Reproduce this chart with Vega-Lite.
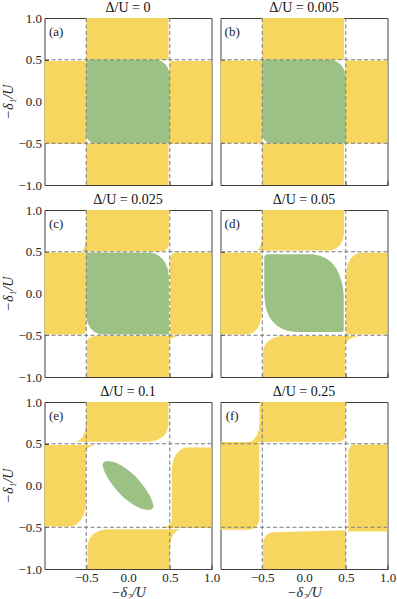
{
  "$schema": "https://vega.github.io/schema/vega-lite/v6.json",
  "padding": {"left": 0.5, "top": 0, "right": 0, "bottom": 0},
  "background": "white",
  "config": {
    "view": {"stroke": "#404040", "strokeWidth": 1},
    "axis": {"domain": false, "grid": false, "tickSize": -4, "tickColor": "#333333", "labelFlush": false, "labelFont": "Liberation Serif, Times New Roman, DejaVu Serif, serif", "labelFontSize": 13, "labelColor": "#222222", "titleFont": "Liberation Serif, Times New Roman, DejaVu Serif, serif", "titleFontSize": 14, "titleFontWeight": "normal", "titleFontStyle": "italic", "titleColor": "#222222", "zindex": 1, "labelPadding": 7, "titlePadding": 2},
    "title": {"font": "Liberation Serif, Times New Roman, DejaVu Serif, serif", "fontSize": 14, "fontWeight": "normal", "offset": -3, "color": "#111111", "anchor": "middle", "frame": "group"}
  },
  "data": {"values": [
    {"p":"*","k":"V","x":-0.5},{"p":"*","k":"V","x":0.5},{"p":"*","k":"H","y":-0.5},{"p":"*","k":"H","y":0.5},
    {"p":"a","k":"L","x":-0.86,"y":0.83,"lab":"(a)"},
    {"p":"b","k":"L","x":-0.86,"y":0.83,"lab":"(b)"},
    {"p":"c","k":"L","x":-0.86,"y":0.83,"lab":"(c)"},
    {"p":"d","k":"L","x":-0.86,"y":0.83,"lab":"(d)"},
    {"p":"e","k":"L","x":-0.86,"y":0.83,"lab":"(e)"},
    {"p":"f","k":"L","x":-0.86,"y":0.83,"lab":"(f)"},

    {"p":"a","k":"Y","r":"t","x":-0.5,"y":1,"y2":0.5},{"p":"a","k":"Y","r":"t","x":0.485,"y":1,"y2":0.5},
    {"p":"a","k":"Y","r":"l","x":-1,"y":0.485,"y2":-0.505},{"p":"a","k":"Y","r":"l","x":-0.5,"y":0.485,"y2":-0.505},
    {"p":"a","k":"Y","r":"r","x":0.5,"y":0.485,"y2":-0.505},{"p":"a","k":"Y","r":"r","x":1,"y":0.485,"y2":-0.505},
    {"p":"a","k":"Y","r":"b","x":-0.5,"y":-0.5,"y2":-1},{"p":"a","k":"Y","r":"b","x":0.485,"y":-0.5,"y2":-1},
    {"p":"a","k":"G","r":"g","x":-0.5,"y":0.5,"y2":-0.39},{"p":"a","k":"G","r":"g","x":-0.49,"y":0.5,"y2":-0.437},
    {"p":"a","k":"G","r":"g","x":-0.468,"y":0.5,"y2":-0.468},{"p":"a","k":"G","r":"g","x":-0.437,"y":0.5,"y2":-0.49},
    {"p":"a","k":"G","r":"g","x":-0.409,"y":0.5,"y2":-0.498},{"p":"a","k":"G","r":"g","x":-0.39,"y":0.5,"y2":-0.5},
    {"p":"a","k":"G","r":"g","x":0.33,"y":0.5,"y2":-0.5},{"p":"a","k":"G","r":"g","x":0.36,"y":0.497,"y2":-0.5},
    {"p":"a","k":"G","r":"g","x":0.402,"y":0.482,"y2":-0.5},{"p":"a","k":"G","r":"g","x":0.45,"y":0.444,"y2":-0.5},
    {"p":"a","k":"G","r":"g","x":0.484,"y":0.39,"y2":-0.5},{"p":"a","k":"G","r":"g","x":0.5,"y":0.31,"y2":-0.5},

    {"p":"b","k":"Y","r":"t","x":-0.5,"y":1,"y2":0.5},{"p":"b","k":"Y","r":"t","x":0.48,"y":1,"y2":0.5},
    {"p":"b","k":"Y","r":"l","x":-1,"y":0.49,"y2":-0.5},{"p":"b","k":"Y","r":"l","x":-0.5,"y":0.49,"y2":-0.5},
    {"p":"b","k":"Y","r":"r","x":0.5,"y":0.49,"y2":-0.5},{"p":"b","k":"Y","r":"r","x":1,"y":0.49,"y2":-0.5},
    {"p":"b","k":"Y","r":"b","x":-0.5,"y":-0.5,"y2":-1},{"p":"b","k":"Y","r":"b","x":0.48,"y":-0.5,"y2":-1},
    {"p":"b","k":"G","r":"g","x":-0.5,"y":0.5,"y2":-0.39},{"p":"b","k":"G","r":"g","x":-0.49,"y":0.5,"y2":-0.437},
    {"p":"b","k":"G","r":"g","x":-0.468,"y":0.5,"y2":-0.468},{"p":"b","k":"G","r":"g","x":-0.437,"y":0.5,"y2":-0.49},
    {"p":"b","k":"G","r":"g","x":-0.409,"y":0.5,"y2":-0.498},{"p":"b","k":"G","r":"g","x":-0.39,"y":0.5,"y2":-0.5},
    {"p":"b","k":"G","r":"g","x":0.31,"y":0.5,"y2":-0.5},{"p":"b","k":"G","r":"g","x":0.343,"y":0.497,"y2":-0.5},
    {"p":"b","k":"G","r":"g","x":0.39,"y":0.48,"y2":-0.5},{"p":"b","k":"G","r":"g","x":0.444,"y":0.438,"y2":-0.5},
    {"p":"b","k":"G","r":"g","x":0.482,"y":0.379,"y2":-0.5},{"p":"b","k":"G","r":"g","x":0.5,"y":0.29,"y2":-0.5},

    {"p":"c","k":"Y","r":"t","x":-0.57,"y":0.505,"y2":0.505},{"p":"c","k":"Y","r":"t","x":-0.558,"y":0.508,"y2":0.505},
    {"p":"c","k":"Y","r":"t","x":-0.54,"y":0.522,"y2":0.505},{"p":"c","k":"Y","r":"t","x":-0.5205,"y":0.559,"y2":0.505},
    {"p":"c","k":"Y","r":"t","x":-0.5066,"y":0.612,"y2":0.505},{"p":"c","k":"Y","r":"t","x":-0.5,"y":0.69,"y2":0.505},
    {"p":"c","k":"Y","r":"t","x":-0.4995,"y":1,"y2":0.505},{"p":"c","k":"Y","r":"t","x":0.4,"y":1,"y2":0.505},
    {"p":"c","k":"Y","r":"t","x":0.416,"y":1,"y2":0.506},{"p":"c","k":"Y","r":"t","x":0.438,"y":1,"y2":0.514},
    {"p":"c","k":"Y","r":"t","x":0.464,"y":1,"y2":0.533},{"p":"c","k":"Y","r":"t","x":0.4815,"y":1,"y2":0.56},
    {"p":"c","k":"Y","r":"t","x":0.49,"y":1,"y2":0.6},
    {"p":"c","k":"Y","r":"l","x":-1,"y":0.49,"y2":-0.49},{"p":"c","k":"Y","r":"l","x":-0.55,"y":0.49,"y2":-0.49},
    {"p":"c","k":"Y","r":"l","x":-0.529,"y":0.49,"y2":-0.483},{"p":"c","k":"Y","r":"l","x":-0.515,"y":0.49,"y2":-0.47},
    {"p":"c","k":"Y","r":"l","x":-0.505,"y":0.49,"y2":-0.45},{"p":"c","k":"Y","r":"l","x":-0.5,"y":0.49,"y2":-0.42},
    {"p":"c","k":"Y","r":"r","x":0.505,"y":0.41,"y2":-0.49},{"p":"c","k":"Y","r":"r","x":0.511,"y":0.444,"y2":-0.49},
    {"p":"c","k":"Y","r":"r","x":0.524,"y":0.467,"y2":-0.49},{"p":"c","k":"Y","r":"r","x":0.5425,"y":0.4825,"y2":-0.49},
    {"p":"c","k":"Y","r":"r","x":0.57,"y":0.49,"y2":-0.49},{"p":"c","k":"Y","r":"r","x":1,"y":0.49,"y2":-0.49},
    {"p":"c","k":"Y","r":"b","x":-0.49,"y":-0.57,"y2":-1},{"p":"c","k":"Y","r":"b","x":-0.477,"y":-0.5425,"y2":-1},
    {"p":"c","k":"Y","r":"b","x":-0.449,"y":-0.524,"y2":-1},{"p":"c","k":"Y","r":"b","x":-0.409,"y":-0.511,"y2":-1},
    {"p":"c","k":"Y","r":"b","x":-0.35,"y":-0.505,"y2":-1},{"p":"c","k":"Y","r":"b","x":0.49,"y":-0.505,"y2":-1},
    {"p":"c","k":"Y","r":"b","x":0.4905,"y":-0.505,"y2":-0.575},{"p":"c","k":"Y","r":"b","x":0.507,"y":-0.505,"y2":-0.545},
    {"p":"c","k":"Y","r":"b","x":0.543,"y":-0.505,"y2":-0.5255},{"p":"c","k":"Y","r":"b","x":0.594,"y":-0.505,"y2":-0.5116},
    {"p":"c","k":"Y","r":"b","x":0.639,"y":-0.505,"y2":-0.506},{"p":"c","k":"Y","r":"b","x":0.67,"y":-0.505,"y2":-0.505},
    {"p":"c","k":"G","r":"g","x":-0.5,"y":0.49,"y2":-0.25},{"p":"c","k":"G","r":"g","x":-0.49,"y":0.49,"y2":-0.327},
    {"p":"c","k":"G","r":"g","x":-0.47,"y":0.49,"y2":-0.379},{"p":"c","k":"G","r":"g","x":-0.44,"y":0.49,"y2":-0.425},
    {"p":"c","k":"G","r":"g","x":-0.4,"y":0.49,"y2":-0.461},{"p":"c","k":"G","r":"g","x":-0.35,"y":0.49,"y2":-0.485},
    {"p":"c","k":"G","r":"g","x":-0.31,"y":0.49,"y2":-0.49},{"p":"c","k":"G","r":"g","x":0.26,"y":0.49,"y2":-0.49},
    {"p":"c","k":"G","r":"g","x":0.32,"y":0.48,"y2":-0.49},{"p":"c","k":"G","r":"g","x":0.37,"y":0.453,"y2":-0.49},
    {"p":"c","k":"G","r":"g","x":0.41,"y":0.417,"y2":-0.49},{"p":"c","k":"G","r":"g","x":0.44,"y":0.377,"y2":-0.49},
    {"p":"c","k":"G","r":"g","x":0.465,"y":0.326,"y2":-0.49},{"p":"c","k":"G","r":"g","x":0.48,"y":0.277,"y2":-0.49},
    {"p":"c","k":"G","r":"g","x":0.49,"y":0.19,"y2":-0.49},

    {"p":"d","k":"Y","r":"t","x":-0.565,"y":0.516,"y2":0.516},{"p":"d","k":"Y","r":"t","x":-0.554,"y":0.52,"y2":0.516},
    {"p":"d","k":"Y","r":"t","x":-0.5375,"y":0.538,"y2":0.516},{"p":"d","k":"Y","r":"t","x":-0.519,"y":0.585,"y2":0.516},
    {"p":"d","k":"Y","r":"t","x":-0.506,"y":0.651,"y2":0.516},{"p":"d","k":"Y","r":"t","x":-0.5,"y":0.75,"y2":0.516},
    {"p":"d","k":"Y","r":"t","x":-0.4995,"y":1,"y2":0.516},{"p":"d","k":"Y","r":"t","x":0.3,"y":1,"y2":0.516},
    {"p":"d","k":"Y","r":"t","x":0.331,"y":1,"y2":0.519},{"p":"d","k":"Y","r":"t","x":0.376,"y":1,"y2":0.535},
    {"p":"d","k":"Y","r":"t","x":0.427,"y":1,"y2":0.576},{"p":"d","k":"Y","r":"t","x":0.463,"y":1,"y2":0.634},
    {"p":"d","k":"Y","r":"t","x":0.48,"y":1,"y2":0.72},
    {"p":"d","k":"Y","r":"l","x":-1,"y":0.488,"y2":-0.49},{"p":"d","k":"Y","r":"l","x":-0.68,"y":0.488,"y2":-0.49},
    {"p":"d","k":"Y","r":"l","x":-0.65,"y":0.488,"y2":-0.486},{"p":"d","k":"Y","r":"l","x":-0.607,"y":0.488,"y2":-0.4675},
    {"p":"d","k":"Y","r":"l","x":-0.558,"y":0.488,"y2":-0.42},{"p":"d","k":"Y","r":"l","x":-0.524,"y":0.488,"y2":-0.3515},
    {"p":"d","k":"Y","r":"l","x":-0.508,"y":0.488,"y2":-0.25},
    {"p":"d","k":"Y","r":"r","x":0.504,"y":0.25,"y2":-0.49},{"p":"d","k":"Y","r":"r","x":0.5215,"y":0.351,"y2":-0.49},
    {"p":"d","k":"Y","r":"r","x":0.5585,"y":0.418,"y2":-0.49},{"p":"d","k":"Y","r":"r","x":0.611,"y":0.4656,"y2":-0.49},
    {"p":"d","k":"Y","r":"r","x":0.6576,"y":0.4844,"y2":-0.49},{"p":"d","k":"Y","r":"r","x":0.69,"y":0.488,"y2":-0.49},
    {"p":"d","k":"Y","r":"r","x":1,"y":0.488,"y2":-0.49},
    {"p":"d","k":"Y","r":"b","x":-0.49,"y":-0.69,"y2":-1},{"p":"d","k":"Y","r":"b","x":-0.467,"y":-0.614,"y2":-1},
    {"p":"d","k":"Y","r":"b","x":-0.42,"y":-0.563,"y2":-1},{"p":"d","k":"Y","r":"b","x":-0.3515,"y":-0.527,"y2":-1},
    {"p":"d","k":"Y","r":"b","x":-0.292,"y":-0.513,"y2":-1},{"p":"d","k":"Y","r":"b","x":-0.25,"y":-0.51,"y2":-1},
    {"p":"d","k":"Y","r":"b","x":0.49,"y":-0.51,"y2":-1},{"p":"d","k":"Y","r":"b","x":0.4905,"y":-0.51,"y2":-0.63},
    {"p":"d","k":"Y","r":"b","x":0.509,"y":-0.51,"y2":-0.579},{"p":"d","k":"Y","r":"b","x":0.5486,"y":-0.51,"y2":-0.545},
    {"p":"d","k":"Y","r":"b","x":0.6054,"y":-0.51,"y2":-0.5213},{"p":"d","k":"Y","r":"b","x":0.655,"y":-0.51,"y2":-0.512},
    {"p":"d","k":"Y","r":"b","x":0.69,"y":-0.51,"y2":-0.51},
    {"p":"d","k":"G","r":"g","x":-0.476,"y":0.43,"y2":-0.02},{"p":"d","k":"G","r":"g","x":-0.465,"y":0.46,"y2":-0.13},
    {"p":"d","k":"G","r":"g","x":-0.448,"y":0.468,"y2":-0.2},{"p":"d","k":"G","r":"g","x":-0.42,"y":0.47,"y2":-0.27},
    {"p":"d","k":"G","r":"g","x":-0.388,"y":0.47,"y2":-0.32},{"p":"d","k":"G","r":"g","x":-0.33,"y":0.47,"y2":-0.38},
    {"p":"d","k":"G","r":"g","x":-0.268,"y":0.47,"y2":-0.42},{"p":"d","k":"G","r":"g","x":-0.2,"y":0.47,"y2":-0.445},
    {"p":"d","k":"G","r":"g","x":-0.11,"y":0.47,"y2":-0.46},{"p":"d","k":"G","r":"g","x":0.11,"y":0.47,"y2":-0.46},
    {"p":"d","k":"G","r":"g","x":0.2,"y":0.45,"y2":-0.46},{"p":"d","k":"G","r":"g","x":0.268,"y":0.42,"y2":-0.46},
    {"p":"d","k":"G","r":"g","x":0.33,"y":0.37,"y2":-0.46},{"p":"d","k":"G","r":"g","x":0.388,"y":0.3,"y2":-0.46},
    {"p":"d","k":"G","r":"g","x":0.42,"y":0.23,"y2":-0.46},{"p":"d","k":"G","r":"g","x":0.448,"y":0.15,"y2":-0.46},
    {"p":"d","k":"G","r":"g","x":0.465,"y":0.08,"y2":-0.46},{"p":"d","k":"G","r":"g","x":0.476,"y":-0.02,"y2":-0.44},

    {"p":"e","k":"Y","r":"t","x":-0.63,"y":0.525,"y2":0.525},{"p":"e","k":"Y","r":"t","x":-0.607,"y":0.5285,"y2":0.525},
    {"p":"e","k":"Y","r":"t","x":-0.575,"y":0.547,"y2":0.525},{"p":"e","k":"Y","r":"t","x":-0.538,"y":0.594,"y2":0.525},
    {"p":"e","k":"Y","r":"t","x":-0.512,"y":0.661,"y2":0.525},{"p":"e","k":"Y","r":"t","x":-0.5,"y":0.76,"y2":0.525},
    {"p":"e","k":"Y","r":"t","x":-0.4995,"y":1,"y2":0.525},{"p":"e","k":"Y","r":"t","x":0.234,"y":1,"y2":0.525},
    {"p":"e","k":"Y","r":"t","x":0.2775,"y":1,"y2":0.528},{"p":"e","k":"Y","r":"t","x":0.34,"y":1,"y2":0.542},
    {"p":"e","k":"Y","r":"t","x":0.411,"y":1,"y2":0.579},{"p":"e","k":"Y","r":"t","x":0.4605,"y":1,"y2":0.632},
    {"p":"e","k":"Y","r":"t","x":0.484,"y":1,"y2":0.71},
    {"p":"e","k":"Y","r":"l","x":-1,"y":0.485,"y2":-0.49},{"p":"e","k":"Y","r":"l","x":-0.7,"y":0.485,"y2":-0.49},
    {"p":"e","k":"Y","r":"l","x":-0.666,"y":0.485,"y2":-0.486},{"p":"e","k":"Y","r":"l","x":-0.6175,"y":0.485,"y2":-0.4656},
    {"p":"e","k":"Y","r":"l","x":-0.562,"y":0.485,"y2":-0.414},{"p":"e","k":"Y","r":"l","x":-0.523,"y":0.485,"y2":-0.34},
    {"p":"e","k":"Y","r":"l","x":-0.505,"y":0.485,"y2":-0.23},{"p":"e","k":"Y","r":"l","x":-0.5045,"y":0.485,"y2":0.4},
    {"p":"e","k":"Y","r":"l","x":-0.4923,"y":0.485,"y2":0.436},{"p":"e","k":"Y","r":"l","x":-0.4655,"y":0.485,"y2":0.46},
    {"p":"e","k":"Y","r":"l","x":-0.427,"y":0.485,"y2":0.477},{"p":"e","k":"Y","r":"l","x":-0.3935,"y":0.485,"y2":0.4837},
    {"p":"e","k":"Y","r":"l","x":-0.37,"y":0.485,"y2":0.485},
    {"p":"e","k":"Y","r":"r","x":0.37,"y":-0.51,"y2":-0.51},{"p":"e","k":"Y","r":"r","x":0.3968,"y":-0.5087,"y2":-0.51},
    {"p":"e","k":"Y","r":"r","x":0.435,"y":-0.5015,"y2":-0.51},{"p":"e","k":"Y","r":"r","x":0.479,"y":-0.4836,"y2":-0.51},
    {"p":"e","k":"Y","r":"r","x":0.5095,"y":-0.458,"y2":-0.51},{"p":"e","k":"Y","r":"r","x":0.524,"y":-0.42,"y2":-0.51},
    {"p":"e","k":"Y","r":"r","x":0.5245,"y":0.2,"y2":-0.51},{"p":"e","k":"Y","r":"r","x":0.5415,"y":0.308,"y2":-0.51},
    {"p":"e","k":"Y","r":"r","x":0.5785,"y":0.38,"y2":-0.51},{"p":"e","k":"Y","r":"r","x":0.631,"y":0.431,"y2":-0.51},
    {"p":"e","k":"Y","r":"r","x":0.6776,"y":0.451,"y2":-0.51},{"p":"e","k":"Y","r":"r","x":0.71,"y":0.455,"y2":-0.51},
    {"p":"e","k":"Y","r":"r","x":1,"y":0.455,"y2":-0.51},
    {"p":"e","k":"Y","r":"b","x":-0.484,"y":-0.71,"y2":-1},{"p":"e","k":"Y","r":"b","x":-0.4605,"y":-0.632,"y2":-1},
    {"p":"e","k":"Y","r":"b","x":-0.411,"y":-0.579,"y2":-1},{"p":"e","k":"Y","r":"b","x":-0.34,"y":-0.542,"y2":-1},
    {"p":"e","k":"Y","r":"b","x":-0.2775,"y":-0.528,"y2":-1},{"p":"e","k":"Y","r":"b","x":-0.234,"y":-0.525,"y2":-1},
    {"p":"e","k":"Y","r":"b","x":0.5,"y":-0.525,"y2":-1},{"p":"e","k":"Y","r":"b","x":0.5005,"y":-0.525,"y2":-0.74},
    {"p":"e","k":"Y","r":"b","x":0.513,"y":-0.525,"y2":-0.649},{"p":"e","k":"Y","r":"b","x":0.541,"y":-0.525,"y2":-0.588},
    {"p":"e","k":"Y","r":"b","x":0.581,"y":-0.525,"y2":-0.545},{"p":"e","k":"Y","r":"b","x":0.6157,"y":-0.525,"y2":-0.528},
    {"p":"e","k":"Y","r":"b","x":0.64,"y":-0.525,"y2":-0.525},
    {"p":"e","k":"G","r":"g","x":-0.305,"y":0.25,"y2":0.25},{"p":"e","k":"G","r":"g","x":-0.29,"y":0.28,"y2":0.19},
    {"p":"e","k":"G","r":"g","x":-0.26,"y":0.29,"y2":0.12},{"p":"e","k":"G","r":"g","x":-0.21,"y":0.29,"y2":0.04},
    {"p":"e","k":"G","r":"g","x":-0.15,"y":0.275,"y2":-0.04},{"p":"e","k":"G","r":"g","x":-0.08,"y":0.24,"y2":-0.12},
    {"p":"e","k":"G","r":"g","x":0,"y":0.185,"y2":-0.185},{"p":"e","k":"G","r":"g","x":0.08,"y":0.12,"y2":-0.24},
    {"p":"e","k":"G","r":"g","x":0.15,"y":0.04,"y2":-0.275},{"p":"e","k":"G","r":"g","x":0.21,"y":-0.04,"y2":-0.29},
    {"p":"e","k":"G","r":"g","x":0.26,"y":-0.12,"y2":-0.29},{"p":"e","k":"G","r":"g","x":0.29,"y":-0.19,"y2":-0.28},
    {"p":"e","k":"G","r":"g","x":0.305,"y":-0.25,"y2":-0.25},

    {"p":"f","k":"Y","r":"t","x":-0.66,"y":0.52,"y2":0.52},{"p":"f","k":"Y","r":"t","x":-0.637,"y":0.5285,"y2":0.52},
    {"p":"f","k":"Y","r":"t","x":-0.605,"y":0.547,"y2":0.52},{"p":"f","k":"Y","r":"t","x":-0.568,"y":0.594,"y2":0.52},
    {"p":"f","k":"Y","r":"t","x":-0.542,"y":0.661,"y2":0.52},{"p":"f","k":"Y","r":"t","x":-0.53,"y":0.76,"y2":0.52},
    {"p":"f","k":"Y","r":"t","x":-0.5295,"y":1,"y2":0.52},{"p":"f","k":"Y","r":"t","x":0.425,"y":1,"y2":0.525},
    {"p":"f","k":"Y","r":"t","x":0.4546,"y":1,"y2":0.534},{"p":"f","k":"Y","r":"t","x":0.4745,"y":1,"y2":0.553},
    {"p":"f","k":"Y","r":"t","x":0.4884,"y":1,"y2":0.5798},{"p":"f","k":"Y","r":"t","x":0.495,"y":1,"y2":0.62},
    {"p":"f","k":"Y","r":"l","x":-1,"y":0.52,"y2":-0.53},{"p":"f","k":"Y","r":"l","x":-0.66,"y":0.52,"y2":-0.53},
    {"p":"f","k":"Y","r":"l","x":-0.607,"y":0.52,"y2":-0.518},{"p":"f","k":"Y","r":"l","x":-0.5716,"y":0.52,"y2":-0.492},
    {"p":"f","k":"Y","r":"l","x":-0.5467,"y":0.52,"y2":-0.455},{"p":"f","k":"Y","r":"l","x":-0.535,"y":0.52,"y2":-0.4},
    {"p":"f","k":"Y","r":"r","x":0.53,"y":0.39,"y2":-0.55},{"p":"f","k":"Y","r":"r","x":0.5366,"y":0.432,"y2":-0.55},
    {"p":"f","k":"Y","r":"r","x":0.5505,"y":0.4607,"y2":-0.55},{"p":"f","k":"Y","r":"r","x":0.5704,"y":0.4806,"y2":-0.55},
    {"p":"f","k":"Y","r":"r","x":0.6,"y":0.49,"y2":-0.55},{"p":"f","k":"Y","r":"r","x":1,"y":0.49,"y2":-0.55},
    {"p":"f","k":"Y","r":"b","x":-0.49,"y":-0.69,"y2":-1},{"p":"f","k":"Y","r":"b","x":-0.4778,"y":-0.635,"y2":-1},
    {"p":"f","k":"Y","r":"b","x":-0.4519,"y":-0.598,"y2":-1},{"p":"f","k":"Y","r":"b","x":-0.415,"y":-0.572,"y2":-1},
    {"p":"f","k":"Y","r":"b","x":-0.36,"y":-0.56,"y2":-1},{"p":"f","k":"Y","r":"b","x":0.5,"y":-0.535,"y2":-1}
  ]},
  "bounds": "flush",
  "spacing": {"row": 25, "column": 9},
  "columns": 2,
  "concat": [
      {"width":167,"height":167,"title":"Δ/U = 0","transform":[{"filter":"datum.p=='a' || datum.p=='*'"}],
       "layer":[
        {"transform":[{"filter":"datum.k=='Y'"}],"mark":{"type":"area","color":"#F7D660","opacity":1},
         "encoding":{"x":{"field":"x","type":"quantitative","scale":{"domain":[-1,1],"nice":false,"zero":false},"axis":{"values":[-0.5,0,0.5,1],"labels":false,"title":null}},
                     "y":{"field":"y","type":"quantitative","scale":{"domain":[-1,1],"nice":false,"zero":false},"axis":{"values":[-1,-0.5,0,0.5,1],"format":".1f","title":"−δ₁/U"}},
                     "y2":{"field":"y2"},"detail":{"field":"r"}}},
        {"transform":[{"filter":"datum.k=='G'"}],"mark":{"type":"area","color":"#9CC185","opacity":1},
         "encoding":{"x":{"field":"x","type":"quantitative"},"y":{"field":"y","type":"quantitative"},"y2":{"field":"y2"},"detail":{"field":"r"}}},
        {"transform":[{"filter":"datum.k=='V'"}],"mark":{"type":"rule","color":"#7a7a7a","strokeWidth":1,"strokeDash":[4,2.5]},"encoding":{"x":{"field":"x","type":"quantitative"}}},
        {"transform":[{"filter":"datum.k=='H'"}],"mark":{"type":"rule","color":"#7a7a7a","strokeWidth":1,"strokeDash":[4,2.5]},"encoding":{"y":{"field":"y","type":"quantitative"}}},
        {"transform":[{"filter":"datum.k=='L'"}],"mark":{"type":"text","font":"Liberation Serif, Times New Roman, DejaVu Serif, serif","fontSize":13,"color":"#222222"},
         "encoding":{"x":{"field":"x","type":"quantitative"},"y":{"field":"y","type":"quantitative"},"text":{"field":"lab"}}}
       ]},
      {"width":167,"height":167,"title":"Δ/U = 0.005","transform":[{"filter":"datum.p=='b' || datum.p=='*'"}],
       "layer":[
        {"transform":[{"filter":"datum.k=='Y'"}],"mark":{"type":"area","color":"#F7D660","opacity":1},
         "encoding":{"x":{"field":"x","type":"quantitative","scale":{"domain":[-1,1],"nice":false,"zero":false},"axis":{"values":[-0.5,0,0.5,1],"labels":false,"title":null}},
                     "y":{"field":"y","type":"quantitative","scale":{"domain":[-1,1],"nice":false,"zero":false},"axis":{"values":[-1,-0.5,0,0.5,1],"format":".1f","labelExpr":"datum.value == 1 ? datum.label : ''","labelOpacity":0,"title":null}},
                     "y2":{"field":"y2"},"detail":{"field":"r"}}},
        {"transform":[{"filter":"datum.k=='G'"}],"mark":{"type":"area","color":"#9CC185","opacity":1},
         "encoding":{"x":{"field":"x","type":"quantitative"},"y":{"field":"y","type":"quantitative"},"y2":{"field":"y2"},"detail":{"field":"r"}}},
        {"transform":[{"filter":"datum.k=='V'"}],"mark":{"type":"rule","color":"#7a7a7a","strokeWidth":1,"strokeDash":[4,2.5]},"encoding":{"x":{"field":"x","type":"quantitative"}}},
        {"transform":[{"filter":"datum.k=='H'"}],"mark":{"type":"rule","color":"#7a7a7a","strokeWidth":1,"strokeDash":[4,2.5]},"encoding":{"y":{"field":"y","type":"quantitative"}}},
        {"transform":[{"filter":"datum.k=='L'"}],"mark":{"type":"text","font":"Liberation Serif, Times New Roman, DejaVu Serif, serif","fontSize":13,"color":"#222222"},
         "encoding":{"x":{"field":"x","type":"quantitative"},"y":{"field":"y","type":"quantitative"},"text":{"field":"lab"}}}
       ]},
      {"width":167,"height":167,"title":"Δ/U = 0.025","transform":[{"filter":"datum.p=='c' || datum.p=='*'"}],
       "layer":[
        {"transform":[{"filter":"datum.k=='Y'"}],"mark":{"type":"area","color":"#F7D660","opacity":1},
         "encoding":{"x":{"field":"x","type":"quantitative","scale":{"domain":[-1,1],"nice":false,"zero":false},"axis":{"values":[-0.5,0,0.5,1],"labels":false,"title":null}},
                     "y":{"field":"y","type":"quantitative","scale":{"domain":[-1,1],"nice":false,"zero":false},"axis":{"values":[-1,-0.5,0,0.5,1],"format":".1f","title":"−δ₁/U"}},
                     "y2":{"field":"y2"},"detail":{"field":"r"}}},
        {"transform":[{"filter":"datum.k=='G'"}],"mark":{"type":"area","color":"#9CC185","opacity":1},
         "encoding":{"x":{"field":"x","type":"quantitative"},"y":{"field":"y","type":"quantitative"},"y2":{"field":"y2"},"detail":{"field":"r"}}},
        {"transform":[{"filter":"datum.k=='V'"}],"mark":{"type":"rule","color":"#7a7a7a","strokeWidth":1,"strokeDash":[4,2.5]},"encoding":{"x":{"field":"x","type":"quantitative"}}},
        {"transform":[{"filter":"datum.k=='H'"}],"mark":{"type":"rule","color":"#7a7a7a","strokeWidth":1,"strokeDash":[4,2.5]},"encoding":{"y":{"field":"y","type":"quantitative"}}},
        {"transform":[{"filter":"datum.k=='L'"}],"mark":{"type":"text","font":"Liberation Serif, Times New Roman, DejaVu Serif, serif","fontSize":13,"color":"#222222"},
         "encoding":{"x":{"field":"x","type":"quantitative"},"y":{"field":"y","type":"quantitative"},"text":{"field":"lab"}}}
       ]},
      {"width":167,"height":167,"title":"Δ/U = 0.05","transform":[{"filter":"datum.p=='d' || datum.p=='*'"}],
       "layer":[
        {"transform":[{"filter":"datum.k=='Y'"}],"mark":{"type":"area","color":"#F7D660","opacity":1},
         "encoding":{"x":{"field":"x","type":"quantitative","scale":{"domain":[-1,1],"nice":false,"zero":false},"axis":{"values":[-0.5,0,0.5,1],"labels":false,"title":null}},
                     "y":{"field":"y","type":"quantitative","scale":{"domain":[-1,1],"nice":false,"zero":false},"axis":{"values":[-1,-0.5,0,0.5,1],"format":".1f","labelExpr":"datum.value == 1 ? datum.label : ''","labelOpacity":0,"title":null}},
                     "y2":{"field":"y2"},"detail":{"field":"r"}}},
        {"transform":[{"filter":"datum.k=='G'"}],"mark":{"type":"area","color":"#9CC185","opacity":1},
         "encoding":{"x":{"field":"x","type":"quantitative"},"y":{"field":"y","type":"quantitative"},"y2":{"field":"y2"},"detail":{"field":"r"}}},
        {"transform":[{"filter":"datum.k=='V'"}],"mark":{"type":"rule","color":"#7a7a7a","strokeWidth":1,"strokeDash":[4,2.5]},"encoding":{"x":{"field":"x","type":"quantitative"}}},
        {"transform":[{"filter":"datum.k=='H'"}],"mark":{"type":"rule","color":"#7a7a7a","strokeWidth":1,"strokeDash":[4,2.5]},"encoding":{"y":{"field":"y","type":"quantitative"}}},
        {"transform":[{"filter":"datum.k=='L'"}],"mark":{"type":"text","font":"Liberation Serif, Times New Roman, DejaVu Serif, serif","fontSize":13,"color":"#222222"},
         "encoding":{"x":{"field":"x","type":"quantitative"},"y":{"field":"y","type":"quantitative"},"text":{"field":"lab"}}}
       ]},
      {"width":167,"height":167,"title":"Δ/U = 0.1","transform":[{"filter":"datum.p=='e' || datum.p=='*'"}],
       "layer":[
        {"transform":[{"filter":"datum.k=='Y'"}],"mark":{"type":"area","color":"#F7D660","opacity":1},
         "encoding":{"x":{"field":"x","type":"quantitative","scale":{"domain":[-1,1],"nice":false,"zero":false},"axis":{"values":[-0.5,0,0.5,1],"format":".1f","title":"−δ₂/U","titlePadding":1,"labelPadding":6}},
                     "y":{"field":"y","type":"quantitative","scale":{"domain":[-1,1],"nice":false,"zero":false},"axis":{"values":[-1,-0.5,0,0.5,1],"format":".1f","title":"−δ₁/U"}},
                     "y2":{"field":"y2"},"detail":{"field":"r"}}},
        {"transform":[{"filter":"datum.k=='G'"}],"mark":{"type":"area","color":"#9CC185","opacity":1},
         "encoding":{"x":{"field":"x","type":"quantitative"},"y":{"field":"y","type":"quantitative"},"y2":{"field":"y2"},"detail":{"field":"r"}}},
        {"transform":[{"filter":"datum.k=='V'"}],"mark":{"type":"rule","color":"#7a7a7a","strokeWidth":1,"strokeDash":[4,2.5]},"encoding":{"x":{"field":"x","type":"quantitative"}}},
        {"transform":[{"filter":"datum.k=='H'"}],"mark":{"type":"rule","color":"#7a7a7a","strokeWidth":1,"strokeDash":[4,2.5]},"encoding":{"y":{"field":"y","type":"quantitative"}}},
        {"transform":[{"filter":"datum.k=='L'"}],"mark":{"type":"text","font":"Liberation Serif, Times New Roman, DejaVu Serif, serif","fontSize":13,"color":"#222222"},
         "encoding":{"x":{"field":"x","type":"quantitative"},"y":{"field":"y","type":"quantitative"},"text":{"field":"lab"}}}
       ]},
      {"width":167,"height":167,"title":"Δ/U = 0.25","transform":[{"filter":"datum.p=='f' || datum.p=='*'"}],
       "layer":[
        {"transform":[{"filter":"datum.k=='Y'"}],"mark":{"type":"area","color":"#F7D660","opacity":1},
         "encoding":{"x":{"field":"x","type":"quantitative","scale":{"domain":[-1,1],"nice":false,"zero":false},"axis":{"values":[-0.5,0,0.5,1],"format":".1f","title":"−δ₂/U","titlePadding":1,"labelPadding":6}},
                     "y":{"field":"y","type":"quantitative","scale":{"domain":[-1,1],"nice":false,"zero":false},"axis":{"values":[-1,-0.5,0,0.5,1],"format":".1f","labelExpr":"datum.value == 1 ? datum.label : ''","labelOpacity":0,"title":null}},
                     "y2":{"field":"y2"},"detail":{"field":"r"}}},
        {"transform":[{"filter":"datum.k=='V'"}],"mark":{"type":"rule","color":"#7a7a7a","strokeWidth":1,"strokeDash":[4,2.5]},"encoding":{"x":{"field":"x","type":"quantitative"}}},
        {"transform":[{"filter":"datum.k=='H'"}],"mark":{"type":"rule","color":"#7a7a7a","strokeWidth":1,"strokeDash":[4,2.5]},"encoding":{"y":{"field":"y","type":"quantitative"}}},
        {"transform":[{"filter":"datum.k=='L'"}],"mark":{"type":"text","font":"Liberation Serif, Times New Roman, DejaVu Serif, serif","fontSize":13,"color":"#222222"},
         "encoding":{"x":{"field":"x","type":"quantitative"},"y":{"field":"y","type":"quantitative"},"text":{"field":"lab"}}}
       ]}
  ]
}
